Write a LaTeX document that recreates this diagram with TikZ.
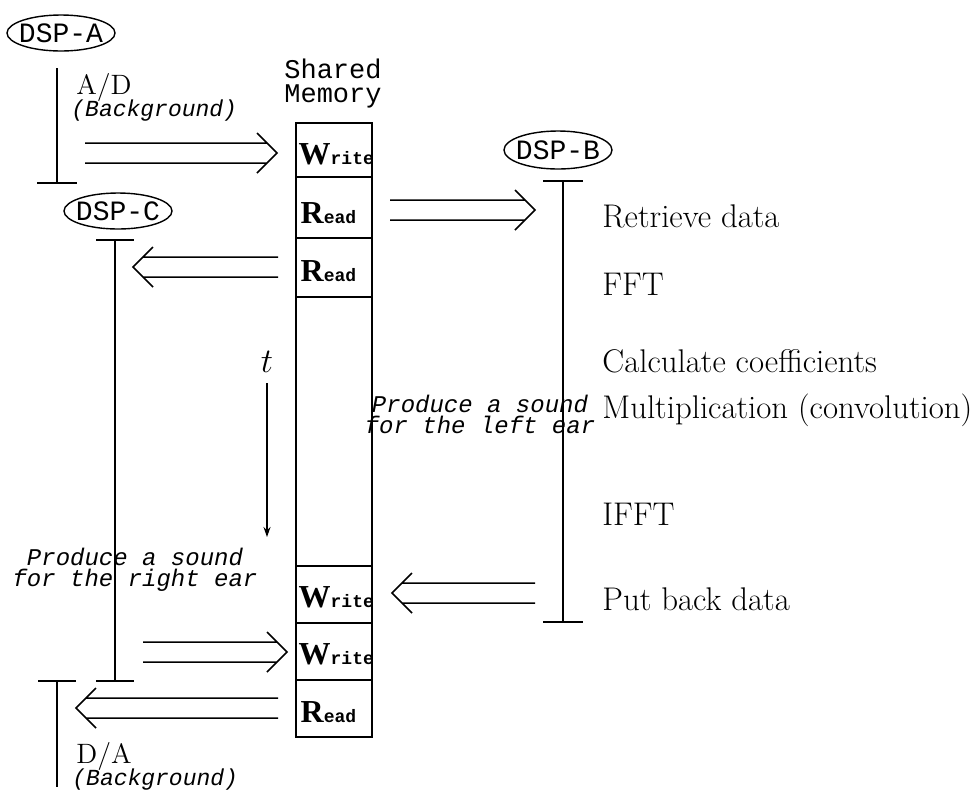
\documentclass[tikz,border=0pt]{standalone}
\usepackage{fontspec}
\setmonofont{Liberation Mono}
\newfontfamily\cellfont{Liberation Serif}
\usepackage{tikz}
\usetikzlibrary{arrows.meta, positioning}

\newcommand{\memW}{{\cellfont\bfseries\fontsize{16}{16}\selectfont W}{\ttfamily\bfseries\fontsize{9}{9}\selectfont rite}}
\newcommand{\memR}{{\cellfont\bfseries\fontsize{16}{16}\selectfont R}{\ttfamily\bfseries\fontsize{9}{9}\selectfont ead}}

\begin{document}
\begin{tikzpicture}[x=0.5pt, y=-0.5pt]

	\tikzset{
		dsp/.style={
				font=\ttfamily\fontsize{14}{14}\selectfont, inner sep=0pt
			},
		oval/.style={line width=0.7pt},
		life/.style={line width=1.3pt},
		cell/.style={
				draw, line width=0.75pt, minimum width=38pt, inner sep=0pt
			},
		memtxt/.style={anchor=base west, inner sep=0pt},
		task/.style={
				anchor=base west, inner sep=0pt, font=\fontsize{16.4}{16.4}\selectfont
			},
		conv/.style={
				anchor=base west, inner sep=0pt, font=\fontsize{14}{14}\selectfont
			},
		bgnote/.style={
				anchor=base west, inner sep=0pt, font=\ttfamily\itshape\fontsize{11.5}{11.5}\selectfont
			},
		earnote/.style={
				align=center, inner sep=0pt, font=\ttfamily\itshape\fontsize{12}{10.5}\selectfont
			},
		toR/.style={line width=0.75pt, to path={
						([yshift=5pt]\tikztostart) -- ([xshift=-5pt,yshift=5pt]\tikztotarget)
						([yshift=-5pt]\tikztostart) -- ([xshift=-5pt,yshift=-5pt]\tikztotarget)
						([xshift=-10pt,yshift=10pt]\tikztotarget) -- (\tikztotarget) -- ([xshift=-10pt,yshift=-10pt]\tikztotarget)}
			},
		toL/.style={line width=0.75pt, to path={
						([yshift=5pt]\tikztostart) -- ([xshift=5pt,yshift=5pt]\tikztotarget)
						([yshift=-5pt]\tikztostart) -- ([xshift=5pt,yshift=-5pt]\tikztotarget)
						([xshift=10pt,yshift=10pt]\tikztotarget) -- (\tikztotarget) -- ([xshift=10pt,yshift=-10pt]\tikztotarget)}
			},
	}

	\useasboundingbox (0,0) rectangle (980,794);

	% shared memory
	\node[align=center, inner sep=0pt, font=\ttfamily\fontsize{13.5}{12}\selectfont] (shm) at (333,84) {Shared\\Memory};

	\node[cell, minimum height=27pt] (w1) at (334,150) {};
	\node[cell, minimum height=30.5pt] (r1) at (334,207.5) {};
	\node[cell, minimum height=29.5pt] (r2) at (334,267.5) {};
	\node[cell, minimum height=134.5pt] (gap) at (334,431.5) {};
	\node[cell, minimum height=28.5pt] (w2) at (334,594.5) {};
	\node[cell, minimum height=28.5pt] (w3) at (334,651.5) {};
	\node[cell, minimum height=28.5pt] (r3) at (334,708.5) {};

	\node[memtxt] (tw1) at ([xshift=1.5pt,yshift=6.5pt]w1.south west) {\memW};
	\node[memtxt] (tr1) at ([xshift=2.5pt,yshift=7.5pt]r1.south west) {\memR};
	\node[memtxt] (tr2) at ([xshift=2.5pt,yshift=8pt]r2.south west) {\memR};
	\node[memtxt] (tw2) at ([xshift=1.5pt,yshift=8pt]w2.south west) {\memW};
	\node[memtxt] (tw3) at ([xshift=1.5pt,yshift=8pt]w3.south west) {\memW};
	\node[memtxt] (tr3) at ([xshift=2.5pt,yshift=7.5pt]r3.south west) {\memR};

	% DSP-A
	\node[dsp] (dspA) at (61,33) {DSP-A};
	\draw[oval] (dspA.center) ellipse [x radius=27pt, y radius=9pt];
	\coordinate (aTop) at (57,68);
	\coordinate (aBot) at (57,183);
	\draw[life] (aTop) -- (aBot) ([xshift=-10pt]aBot) -- ([xshift=10pt]aBot);
	\node[conv] (ad) at (76,94) {A/D};
	\node[bgnote] (adbg) at (71,116) {(Background)};

	% DSP-C
	\node[dsp] (dspC) at (118,211) {DSP-C};
	\draw[oval] (dspC.center) ellipse [x radius=27pt, y radius=9pt];
	\coordinate (cTop) at (115,240);
	\coordinate (cBot) at (115,681);
	\draw[life] (cTop) -- (cBot)
		([xshift=-9.5pt]cTop) -- ([xshift=9.5pt]cTop)
		([xshift=-9.5pt]cBot) -- ([xshift=9.5pt]cBot);

	% D/A
	\coordinate (dTop) at (57,681);
	\coordinate (dBot) at (57,787);
	\draw[life] (dTop) -- (dBot) ([xshift=-9.5pt]dTop) -- ([xshift=9.5pt]dTop);
	\node[conv] (da) at (76,763) {D/A};
	\node[bgnote] (dabg) at (72,785) {(Background)};

	% DSP-B
	\node[dsp] (dspB) at (558,150) {DSP-B};
	\draw[oval] (dspB.center) ellipse [x radius=27pt, y radius=9.5pt];
	\coordinate (bTop) at (563,181);
	\coordinate (bBot) at (563,622);
	\draw[life] (bTop) -- (bBot)
		([xshift=-10pt]bTop) -- ([xshift=10pt]bTop)
		([xshift=-10pt]bBot) -- ([xshift=10pt]bBot);

	\node[task] (t1) at (602,227) {Retrieve data};
	\node[task] (t2) at (602,295) {FFT};
	\node[task] (t3) at (602,372) {Calculate coefficients};
	\node[task] (t4) at (602,418) {Multiplication (convolution)};
	\node[task] (t5) at (602,525) {IFFT};
	\node[task] (t6) at (602,610) {Put back data};

	\node[earnote] (left) at (480,414) {Produce a sound\\for the left ear};
	\node[earnote] (right) at (135,570) {Produce a sound\\for the right ear};

	% time
	\node[anchor=base, inner sep=0pt, font=\fontsize{16}{16}\selectfont] (tlbl) at (267,372) {$t$};
	\coordinate (tA) at (267,383);
	\coordinate (tB) at (267,537);
	\draw[line width=0.6pt, -{Stealth[length=5pt, width=3.5pt]}] (tA) -- (tB);

	% transfers
	\coordinate (s1) at (85,153);
	\coordinate (e1) at (277,153);
	\coordinate (s2) at (390,210);
	\coordinate (e2) at (535,210);
	\coordinate (s3) at (278,267);
	\coordinate (e3) at (133,267);
	\coordinate (s4) at (535,593);
	\coordinate (e4) at (392,593);
	\coordinate (s5) at (143,652);
	\coordinate (e5) at (287,652);
	\coordinate (s6) at (278,708);
	\coordinate (e6) at (76,708);

	\draw[toR] (s1) to (e1);
	\draw[toR] (s2) to (e2);
	\draw[toL] (s3) to (e3);
	\draw[toL] (s4) to (e4);
	\draw[toR] (s5) to (e5);
	\draw[toL] (s6) to (e6);

\end{tikzpicture}
\end{document}
